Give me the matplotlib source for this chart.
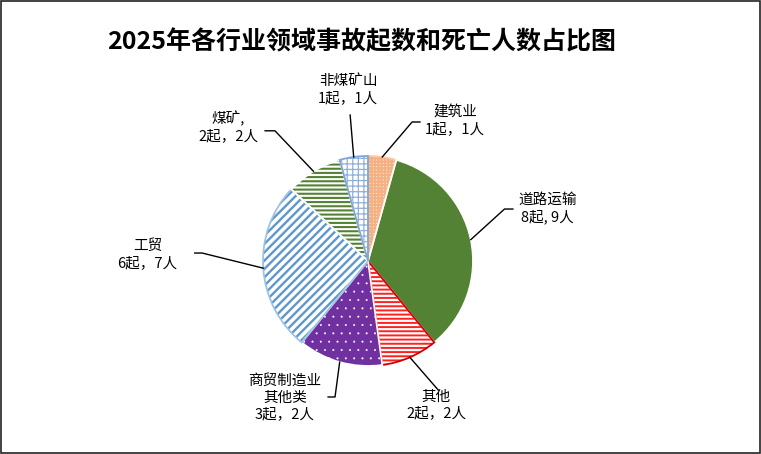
import numpy as np
import matplotlib
matplotlib.use("Agg")
import matplotlib.pyplot as plt
from matplotlib.patches import Rectangle

plt.rcParams['font.family'] = ['Noto Sans CJK SC', 'DejaVu Sans']
plt.rcParams['hatch.linewidth'] = 1.4

# 数据
categories = ['建筑业', '道路运输', '其他', '商贸制造业\n其他类', '工贸', '煤矿,', '非煤矿山']
accidents = [1, 8, 2, 3, 6, 2, 1]   # 起数
deaths = [1, 9, 2, 2, 7, 2, 1]      # 死亡人数

faces = ['#FDF1E8', '#548235', 'white', '#7030A0', 'white', 'white', 'white']
hatch_colors = ['#F4B183', '#548235', '#FF2020', 'white', '#5F97CC', '#548235', '#8FB0DC']
hatches = ['+++++', None, '----', '..', '////', '----', '+++']
hatch_lw = [1.6, 1.0, 1.4, 0.2, 1.7, 1.5, 0.9]
edges = ['#F8CBAD', 'white', '#D00000', 'white', '#9DC3E6', 'white', '#7FA6D6']

# 标签位置(数据坐标)和引线拐点
label_pos = [(0.83, 1.34), (1.71, 0.50), (0.65, -1.37), (-0.79, -1.30),
             (-2.10, 0.06), (-1.33, 1.28), (-0.19, 1.63)]
elbows = [[(0.495, 1.324), (0.42, 1.324)],
          [(1.38, 0.495), (1.30, 0.495)],
          [(0.67, -1.23)],
          [(-0.38, -1.295), (-0.314, -1.295)],
          [(-1.65, 0.076), (-1.58, 0.076)],
          [(-0.98, 1.24), (-0.886, 1.24)],
          [(-0.17, 1.39)]]

fig = plt.figure(figsize=(7.61, 4.54), dpi=100)
fig.patches.append(Rectangle((0.0015, 0.0025), 0.997, 0.995, transform=fig.transFigure,
                             fill=False, edgecolor='#222222', linewidth=1.2))

ax = fig.add_axes([(368 - 150) / 761, (193 - 150) / 454, 300 / 761, 300 / 454])

# 底层:填充和图案
wedges, _ = ax.pie(accidents, startangle=90, counterclock=False, radius=1,
                   colors=faces)
for w, hc, h, hl in zip(wedges, hatch_colors, hatches, hatch_lw):
    w.set_edgecolor(hc)
    w.set_linewidth(0)
    if h:
        w.set_hatch(h)
        if hasattr(w, 'set_hatch_linewidth'):
            w.set_hatch_linewidth(hl)

# 上层:边框
wedges2, _ = ax.pie(accidents, startangle=90, counterclock=False, radius=1)
for w, ec in zip(wedges2, edges):
    w.set_facecolor('none')
    w.set_edgecolor(ec)
    w.set_linewidth(1.3)

ax.set_xlim(-300 / 210, 300 / 210)
ax.set_ylim(-300 / 210, 300 / 210)
ax.axis('off')

for w, name, a, d, pos, elb in zip(wedges, categories, accidents, deaths, label_pos, elbows):
    mid = np.deg2rad((w.theta1 + w.theta2) / 2)
    pts = [(np.cos(mid), np.sin(mid))] + elb[::-1]
    xs, ys = zip(*pts)
    ax.plot(xs, ys, color='black', linewidth=1.0, clip_on=False)
    sep = ', ' if name == '道路运输' else '，'
    ax.text(pos[0], pos[1], f'{name}\n{a}起{sep}{d}人', ha='center', va='center',
            fontsize=10.5, linespacing=1.25, clip_on=False)

fig.text(362 / 761, 1 - 42 / 454, '2025年各行业领域事故起数和死亡人数占比图',
         ha='center', va='center', fontsize=18, fontweight='bold')

plt.savefig('out.png', dpi=100)
